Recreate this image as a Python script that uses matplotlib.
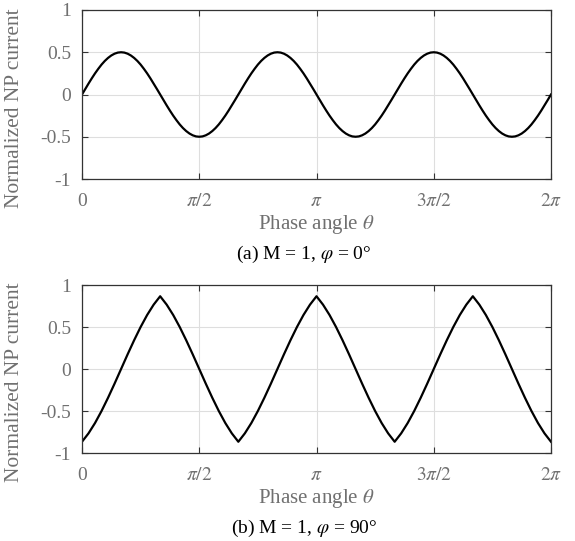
import numpy as np
import matplotlib
matplotlib.use("Agg")
import matplotlib.pyplot as plt

plt.rcParams['font.family'] = ['Liberation Serif', 'DejaVu Serif']
plt.rcParams['mathtext.fontset'] = 'stix'
plt.rcParams['axes.unicode_minus'] = False

# (a) M = 1, phi = 0 deg -- sampled every 2.5 deg
theta_a = np.arange(0, 360.1, 2.5)
np_current_a = [
    0.000, 0.065, 0.129, 0.191, 0.250, 0.304, 0.354, 0.397, 0.433, 0.462, 0.483, 0.496,
    0.500, 0.496, 0.483, 0.462, 0.433, 0.397, 0.354, 0.304, 0.250, 0.191, 0.129, 0.065,
    0.000, -0.065, -0.129, -0.191, -0.250, -0.304, -0.354, -0.397, -0.433, -0.462, -0.483, -0.496,
    -0.500, -0.496, -0.483, -0.462, -0.433, -0.397, -0.354, -0.304, -0.250, -0.191, -0.129, -0.065,
    0.000, 0.065, 0.129, 0.191, 0.250, 0.304, 0.354, 0.397, 0.433, 0.462, 0.483, 0.496,
    0.500, 0.496, 0.483, 0.462, 0.433, 0.397, 0.354, 0.304, 0.250, 0.191, 0.129, 0.065,
    0.000, -0.065, -0.129, -0.191, -0.250, -0.304, -0.354, -0.397, -0.433, -0.462, -0.483, -0.496,
    -0.500, -0.496, -0.483, -0.462, -0.433, -0.397, -0.354, -0.304, -0.250, -0.191, -0.129, -0.065,
    0.000, 0.065, 0.129, 0.191, 0.250, 0.304, 0.354, 0.397, 0.433, 0.462, 0.483, 0.496,
    0.500, 0.496, 0.483, 0.462, 0.433, 0.397, 0.354, 0.304, 0.250, 0.191, 0.129, 0.065,
    0.000, -0.065, -0.129, -0.191, -0.250, -0.304, -0.354, -0.397, -0.433, -0.462, -0.483, -0.496,
    -0.500, -0.496, -0.483, -0.462, -0.433, -0.397, -0.354, -0.304, -0.250, -0.191, -0.129, -0.065,
    0.000,
]

# (b) M = 1, phi = 90 deg -- sampled every 5 deg
theta_b = np.arange(0, 361, 5)
np_current_b = [
    -0.866, -0.766, -0.643, -0.500, -0.342, -0.174, 0.000, 0.174, 0.342, 0.500, 0.643, 0.766,
    0.866, 0.766, 0.643, 0.500, 0.342, 0.174, 0.000, -0.174, -0.342, -0.500, -0.643, -0.766,
    -0.866, -0.766, -0.643, -0.500, -0.342, -0.174, 0.000, 0.174, 0.342, 0.500, 0.643, 0.766,
    0.866, 0.766, 0.643, 0.500, 0.342, 0.174, 0.000, -0.174, -0.342, -0.500, -0.643, -0.766,
    -0.866, -0.766, -0.643, -0.500, -0.342, -0.174, 0.000, 0.174, 0.342, 0.500, 0.643, 0.766,
    0.866, 0.766, 0.643, 0.500, 0.342, 0.174, 0.000, -0.174, -0.342, -0.500, -0.643, -0.766,
    -0.866,
]

x_ticks = [0, 90, 180, 270, 360]
x_tick_labels = ['0', r'$\pi/2$', r'$\pi$', r'$3\pi/2$', r'$2\pi$']
y_ticks = [-1, -0.5, 0, 0.5, 1]
y_tick_labels = ['-1', '-0.5', '0', '0.5', '1']
captions = [r'(a) M = 1, $\varphi$ = 0°', r'(b) M = 1, $\varphi$ = 90°']

W, H = 575, 541
fig = plt.figure(figsize=(W / 100, H / 100), dpi=100)

# axes boxes in pixels: left, top, right, bottom
boxes = [(82, 10, 551, 179), (82, 285, 551, 453)]
gray = '#707070'

for (l, t, r, b), x, y, cap in zip(boxes, [theta_a, theta_b],
                                   [np_current_a, np_current_b], captions):
    ax = fig.add_axes([l / W, 1 - b / H, (r - l) / W, (b - t) / H])
    ax.plot(x, y, color='black', linewidth=1.6)
    ax.set_xlim(0, 360)
    ax.set_ylim(-1, 1)
    ax.set_xticks(x_ticks)
    ax.set_xticklabels(x_tick_labels)
    ax.set_yticks(y_ticks)
    ax.set_yticklabels(y_tick_labels)
    ax.grid(True, color='#dedede', linewidth=0.8)
    ax.tick_params(direction='in', length=4, width=0.8, top=True, right=True,
                   labelsize=14, labelcolor=gray, color='#333333')
    ax.tick_params(axis='x', pad=10)
    ax.tick_params(axis='y', pad=8)
    for s in ax.spines.values():
        s.set_color('#333333')
        s.set_linewidth(0.9)
    ax.set_xlabel(r'Phase angle $\theta$', fontsize=15, color=gray, labelpad=2)
    ax.set_ylabel('Normalized NP current', fontsize=15.5, color=gray)
    ax.yaxis.set_label_coords(-0.124, 0.42)
    fig.text(304 / W, 1 - (b + 75) / H, cap, fontsize=14, color='black',
             ha='center', va='center')

fig.savefig('out.png', dpi=100)
